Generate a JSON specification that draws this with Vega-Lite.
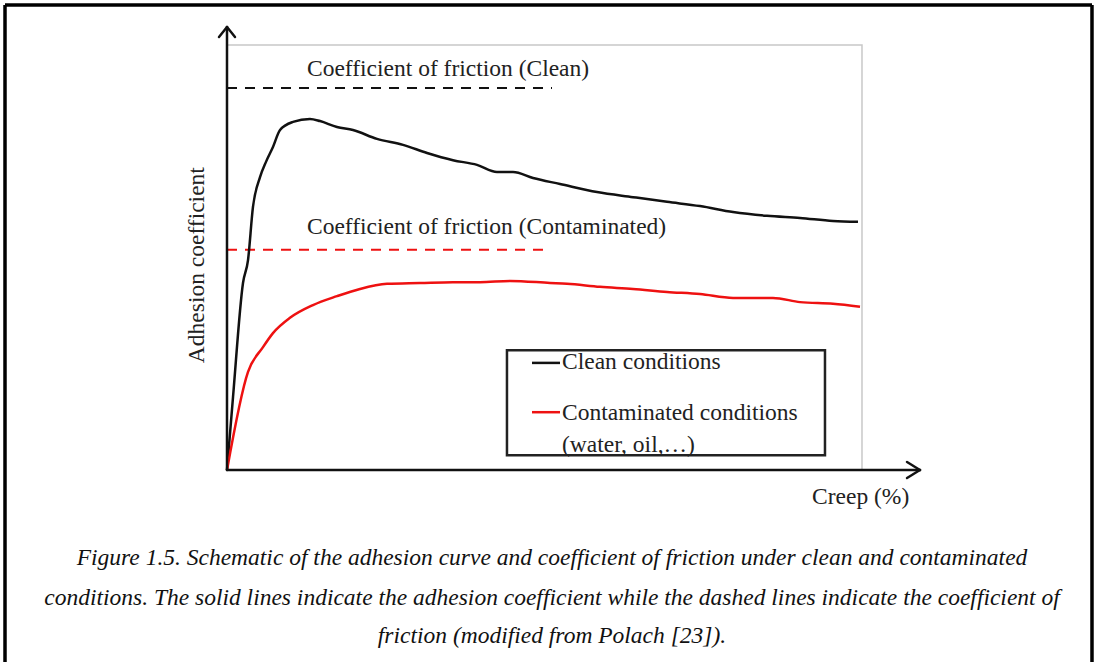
{
  "$schema": "https://vega.github.io/schema/vega-lite/v6.json",
  "width": 1107,
  "height": 662,
  "autosize": {"type": "none"},
  "padding": 0,
  "background": "white",
  "config": {"view": {"stroke": null}},
  "datasets": {
    "curves": [
      {"creep": 0, "adhesion": 0, "condition": "Clean"},
      {"creep": 0.95, "adhesion": 0.172, "condition": "Clean"},
      {"creep": 2.52, "adhesion": 0.44, "condition": "Clean"},
      {"creep": 3.31, "adhesion": 0.494, "condition": "Clean"},
      {"creep": 4.09, "adhesion": 0.619, "condition": "Clean"},
      {"creep": 5.2, "adhesion": 0.689, "condition": "Clean"},
      {"creep": 6.14, "adhesion": 0.725, "condition": "Clean"},
      {"creep": 7.24, "adhesion": 0.76, "condition": "Clean"},
      {"creep": 8.35, "adhesion": 0.8, "condition": "Clean"},
      {"creep": 10.39, "adhesion": 0.819, "condition": "Clean"},
      {"creep": 13.07, "adhesion": 0.826, "condition": "Clean"},
      {"creep": 14.65, "adhesion": 0.821, "condition": "Clean"},
      {"creep": 17.32, "adhesion": 0.807, "condition": "Clean"},
      {"creep": 19.84, "adhesion": 0.8, "condition": "Clean"},
      {"creep": 23.62, "adhesion": 0.779, "condition": "Clean"},
      {"creep": 27.72, "adhesion": 0.765, "condition": "Clean"},
      {"creep": 31.5, "adhesion": 0.746, "condition": "Clean"},
      {"creep": 35.59, "adhesion": 0.729, "condition": "Clean"},
      {"creep": 39.37, "adhesion": 0.718, "condition": "Clean"},
      {"creep": 42.52, "adhesion": 0.701, "condition": "Clean"},
      {"creep": 45.04, "adhesion": 0.701, "condition": "Clean"},
      {"creep": 48.19, "adhesion": 0.687, "condition": "Clean"},
      {"creep": 52.44, "adhesion": 0.673, "condition": "Clean"},
      {"creep": 58.27, "adhesion": 0.654, "condition": "Clean"},
      {"creep": 63.94, "adhesion": 0.642, "condition": "Clean"},
      {"creep": 69.29, "adhesion": 0.631, "condition": "Clean"},
      {"creep": 74.49, "adhesion": 0.621, "condition": "Clean"},
      {"creep": 79.69, "adhesion": 0.607, "condition": "Clean"},
      {"creep": 85.04, "adhesion": 0.598, "condition": "Clean"},
      {"creep": 90.24, "adhesion": 0.593, "condition": "Clean"},
      {"creep": 95.43, "adhesion": 0.586, "condition": "Clean"},
      {"creep": 99.37, "adhesion": 0.584, "condition": "Clean"},
      {"creep": 0, "adhesion": 0, "condition": "Contaminated"},
      {"creep": 3.31, "adhesion": 0.231, "condition": "Contaminated"},
      {"creep": 5.67, "adhesion": 0.289, "condition": "Contaminated"},
      {"creep": 7.24, "adhesion": 0.322, "condition": "Contaminated"},
      {"creep": 9.92, "adhesion": 0.358, "condition": "Contaminated"},
      {"creep": 13.54, "adhesion": 0.388, "condition": "Contaminated"},
      {"creep": 17.32, "adhesion": 0.409, "condition": "Contaminated"},
      {"creep": 20.94, "adhesion": 0.426, "condition": "Contaminated"},
      {"creep": 25.2, "adhesion": 0.438, "condition": "Contaminated"},
      {"creep": 30.39, "adhesion": 0.44, "condition": "Contaminated"},
      {"creep": 35.59, "adhesion": 0.442, "condition": "Contaminated"},
      {"creep": 39.84, "adhesion": 0.442, "condition": "Contaminated"},
      {"creep": 44.57, "adhesion": 0.445, "condition": "Contaminated"},
      {"creep": 50.87, "adhesion": 0.44, "condition": "Contaminated"},
      {"creep": 53.54, "adhesion": 0.438, "condition": "Contaminated"},
      {"creep": 58.74, "adhesion": 0.431, "condition": "Contaminated"},
      {"creep": 63.94, "adhesion": 0.426, "condition": "Contaminated"},
      {"creep": 69.29, "adhesion": 0.419, "condition": "Contaminated"},
      {"creep": 74.49, "adhesion": 0.414, "condition": "Contaminated"},
      {"creep": 79.69, "adhesion": 0.405, "condition": "Contaminated"},
      {"creep": 85.98, "adhesion": 0.405, "condition": "Contaminated"},
      {"creep": 90.24, "adhesion": 0.395, "condition": "Contaminated"},
      {"creep": 95.43, "adhesion": 0.391, "condition": "Contaminated"},
      {"creep": 99.69, "adhesion": 0.384, "condition": "Contaminated"}
    ],
    "friction": [
      {"start": 0, "end": 51.18, "mu": 0.899, "condition": "Clean"},
      {"start": 0, "end": 50.87, "mu": 0.518, "condition": "Contaminated"}
    ],
    "segments": [
      {"x": 0, "x2": 0, "y": 0, "y2": 1.0424},
      {"x": 0, "x2": -1.26, "y": 1.0424, "y2": 1.0188},
      {"x": 0, "x2": 1.26, "y": 1.0424, "y2": 1.0188},
      {"x": 0, "x2": 109.13, "y": 0, "y2": 0},
      {"x": 109.13, "x2": 107.09, "y": 0, "y2": 0.0188},
      {"x": 109.13, "x2": 107.09, "y": 0, "y2": -0.0188}
    ],
    "frame": [
      {"x": -34.96, "x2": 136.22, "y": 1.094, "y2": 1.094},
      {"x": -34.96, "x2": -34.96, "y": 1.094, "y2": -0.5},
      {"x": 136.22, "x2": 136.22, "y": 1.094, "y2": -0.5}
    ],
    "labels": [
      {"x": 12.6, "y": 0.943, "text": "Coefficient of friction (Clean)"},
      {"x": 12.6, "y": 0.571, "text": "Coefficient of friction (Contaminated)"},
      {"x": 92.13, "y": -0.0635, "text": "Creep (%)"},
      {"x": 52.76, "y": 0.254, "text": "Clean conditions"},
      {"x": 52.76, "y": 0.134, "text": "Contaminated conditions"},
      {"x": 52.76, "y": 0.059, "text": "(water, oil,…)"}
    ],
    "legendlines": [
      {"x": 48.03, "x2": 52.44, "y": 0.252, "condition": "Clean"},
      {"x": 48.03, "x2": 52.44, "y": 0.136, "condition": "Contaminated"}
    ],
    "caption": [
      {"x": 51.18, "y": -0.207, "text": "Figure 1.5. Schematic of the adhesion curve and coefficient of friction under clean and contaminated"},
      {"x": 51.18, "y": -0.301, "text": "conditions. The solid lines indicate the adhesion coefficient while the dashed lines indicate the coefficient of"},
      {"x": 51.18, "y": -0.391, "text": "friction (modified from Polach [23])."}
    ]
  },
  "layer": [
    {
      "data": {"values": [{"x": 0, "x2": 100, "y": 0, "y2": 1}]},
      "mark": {"type": "rect", "fill": null, "stroke": "#c8c8c8", "strokeWidth": 1.5},
      "encoding": {
        "x": {"field": "x", "type": "quantitative", "scale": {"domain": [-35.748, 138.583], "nice": false, "zero": false}, "axis": null},
        "x2": {"field": "x2"},
        "y": {"field": "y", "type": "quantitative", "scale": {"domain": [-0.45176, 1.10588], "nice": false, "zero": false}, "axis": null},
        "y2": {"field": "y2"}
      }
    },
    {
      "data": {"name": "frame"},
      "mark": {"type": "rule", "color": "black", "strokeWidth": 3.5, "clip": false},
      "encoding": {
        "x": {"field": "x", "type": "quantitative"},
        "x2": {"field": "x2"},
        "y": {"field": "y", "type": "quantitative"},
        "y2": {"field": "y2"}
      }
    },
    {
      "data": {"name": "friction"},
      "mark": {"type": "rule", "strokeWidth": 2, "strokeDash": [10, 8]},
      "encoding": {
        "x": {"field": "start", "type": "quantitative"},
        "x2": {"field": "end"},
        "y": {"field": "mu", "type": "quantitative"},
        "color": {"field": "condition", "type": "nominal", "scale": {"domain": ["Clean", "Contaminated"], "range": ["#111111", "#ee1111"]}, "legend": null}
      }
    },
    {
      "data": {"name": "curves"},
      "mark": {"type": "line", "strokeWidth": 2.5, "strokeJoin": "round", "interpolate": "monotone"},
      "encoding": {
        "x": {"field": "creep", "type": "quantitative"},
        "y": {"field": "adhesion", "type": "quantitative"},
        "color": {"field": "condition", "type": "nominal", "legend": null},
        "order": {"field": "creep", "type": "quantitative"}
      }
    },
    {
      "data": {"values": [{"x": 44.09, "x2": 94.17, "y": 0.035, "y2": 0.282}]},
      "mark": {"type": "rect", "fill": "white", "fillOpacity": 0, "stroke": "#222222", "strokeWidth": 2.5},
      "encoding": {
        "x": {"field": "x", "type": "quantitative"},
        "x2": {"field": "x2"},
        "y": {"field": "y", "type": "quantitative"},
        "y2": {"field": "y2"}
      }
    },
    {
      "data": {"name": "legendlines"},
      "mark": {"type": "rule", "strokeWidth": 2.5},
      "encoding": {
        "x": {"field": "x", "type": "quantitative"},
        "x2": {"field": "x2"},
        "y": {"field": "y", "type": "quantitative"},
        "color": {"field": "condition", "type": "nominal", "legend": null}
      }
    },
    {
      "data": {"name": "segments"},
      "mark": {"type": "rule", "color": "#111111", "strokeWidth": 2.5, "strokeCap": "round", "clip": false},
      "encoding": {
        "x": {"field": "x", "type": "quantitative"},
        "x2": {"field": "x2"},
        "y": {"field": "y", "type": "quantitative"},
        "y2": {"field": "y2"}
      }
    },
    {
      "data": {"name": "labels"},
      "mark": {"type": "text", "align": "left", "baseline": "middle", "font": "Liberation Serif, DejaVu Serif, serif", "fontSize": 23.5, "color": "#222222"},
      "encoding": {
        "x": {"field": "x", "type": "quantitative"},
        "y": {"field": "y", "type": "quantitative"},
        "text": {"field": "text"}
      }
    },
    {
      "data": {"values": [{"x": -4.72, "y": 0.482, "text": "Adhesion coefficient"}]},
      "mark": {"type": "text", "align": "center", "baseline": "middle", "angle": 270, "font": "Liberation Serif, DejaVu Serif, serif", "fontSize": 23.5, "color": "#222222"},
      "encoding": {
        "x": {"field": "x", "type": "quantitative"},
        "y": {"field": "y", "type": "quantitative"},
        "text": {"field": "text"}
      }
    },
    {
      "data": {"name": "caption"},
      "mark": {"type": "text", "align": "center", "baseline": "middle", "font": "Liberation Serif, DejaVu Serif, serif", "fontStyle": "italic", "fontSize": 23.5, "color": "#111111"},
      "encoding": {
        "x": {"field": "x", "type": "quantitative"},
        "y": {"field": "y", "type": "quantitative"},
        "text": {"field": "text"}
      }
    }
  ]
}
